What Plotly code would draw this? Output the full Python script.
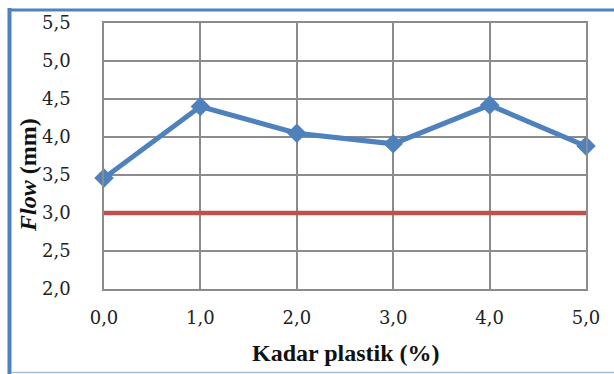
import plotly.graph_objects as go

# Plastic content (%) and measured flow (mm)
kadar_plastik = [0.0, 1.0, 2.0, 3.0, 4.0, 5.0]
flow_mm = [3.46, 4.40, 4.05, 3.91, 4.42, 3.88]
# Minimum flow specification
batas_flow = [3.0, 3.0, 3.0, 3.0, 3.0, 3.0]

y_ticks = [2.0, 2.5, 3.0, 3.5, 4.0, 4.5, 5.0, 5.5]
x_ticks = [0.0, 1.0, 2.0, 3.0, 4.0, 5.0]

def koma(v):
    return f"{v:.1f}".replace(".", ",")

W, H = 614, 374
L, R, T, B = 104, 28, 23, 85
pw, ph = W - L - R, H - T - B

def px(x):
    return (x - L) / pw

def py(y):
    return (H - B - y) / ph

tick_font = dict(family="DejaVu Serif", size=18, color="#222222")
grid = "#8c8c8c"

fig = go.Figure()
fig.add_trace(go.Scatter(
    x=kadar_plastik, y=batas_flow, mode="lines",
    line=dict(color="#c0504d", width=4.5), showlegend=False,
))
fig.add_trace(go.Scatter(
    x=kadar_plastik, y=flow_mm, mode="lines+markers",
    line=dict(color="#4f81bd", width=5),
    marker=dict(symbol="diamond", size=15, color="#4f81bd"),
    showlegend=False, cliponaxis=False,
))

fig.update_xaxes(
    range=[0, 5], tickvals=x_ticks, ticktext=[koma(v) for v in x_ticks],
    showgrid=True, gridcolor=grid, gridwidth=1.5,
    showline=True, linecolor=grid, linewidth=1.5, mirror=True,
    zeroline=False, tickfont=tick_font, ticks="", ticklabelstandoff=12,
)
fig.update_yaxes(
    range=[2, 5.5], tickvals=y_ticks, ticktext=[koma(v) for v in y_ticks],
    showgrid=True, gridcolor=grid, gridwidth=1.5,
    showline=True, linecolor=grid, linewidth=1.5, mirror=True,
    zeroline=False, tickfont=tick_font, ticks="", ticklabelstandoff=28,
)

fig.add_annotation(
    text="<b>Kadar plastik (%)</b>", xref="paper", yref="paper",
    x=px(346), y=py(353), xanchor="center", yanchor="middle", showarrow=False,
    font=dict(family="Liberation Serif", size=24, color="#111111"),
)
fig.add_annotation(
    text="<b><i>Flow</i> (mm)</b>", xref="paper", yref="paper",
    x=px(28), y=py(175), xanchor="center", yanchor="middle", showarrow=False,
    textangle=-90,
    font=dict(family="Liberation Serif", size=24, color="#111111"),
)

# Frame around the chart
fig.add_shape(type="line", xref="paper", yref="paper",
              x0=px(9.5), x1=px(9.5), y0=py(8), y1=py(380),
              line=dict(color="#4f81bd", width=4))
fig.add_shape(type="line", xref="paper", yref="paper",
              x0=px(8), x1=px(620), y0=py(10), y1=py(10),
              line=dict(color="#4f81bd", width=3))
fig.add_shape(type="line", xref="paper", yref="paper",
              x0=px(11), x1=px(620), y0=py(372.5), y1=py(372.5),
              line=dict(color="#a7bfdd", width=1.5))

fig.update_layout(
    width=W, height=H, margin=dict(l=L, r=R, t=T, b=B),
    paper_bgcolor="white", plot_bgcolor="white",
)

fig.write_html("out.html")
